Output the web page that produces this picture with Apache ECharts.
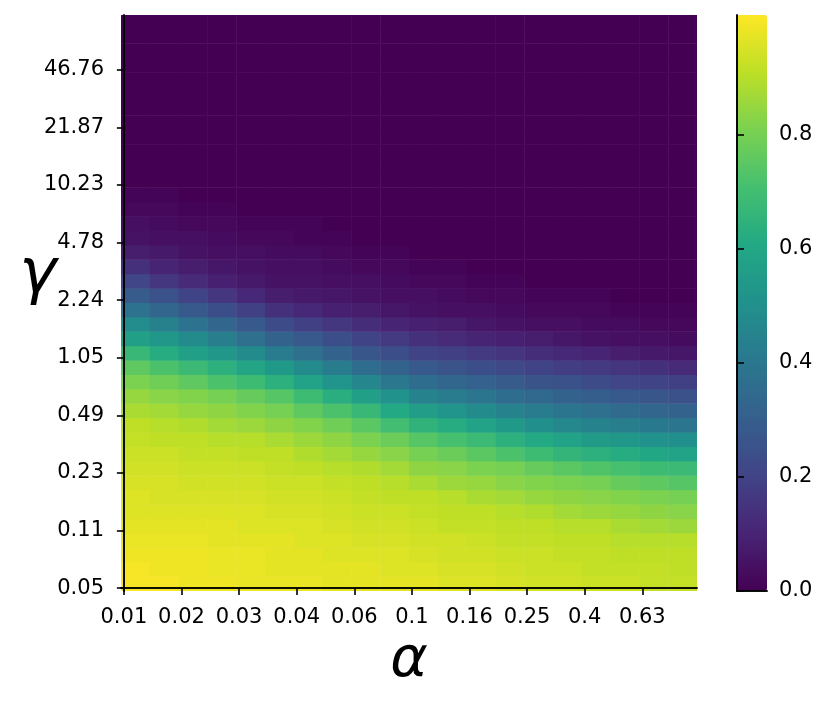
<!DOCTYPE html>
<html>
<head>
<meta charset="utf-8">
<script src="https://cdn.jsdelivr.net/npm/echarts@6/dist/echarts.min.js"></script>
<style>
  html, body { margin: 0; padding: 0; background: #fff; }
  #chart { width: 831px; height: 706px; }
</style>
</head>
<body>
<div id="chart"></div>
<script>
// tick labels (alpha along x, gamma along y), one every 10 grid steps
var xTickLabels = ['0.01', '0.02', '0.03', '0.04', '0.06', '0.1', '0.16', '0.25', '0.4', '0.63'];
var yTickLabels = ['0.05', '0.11', '0.23', '0.49', '1.05', '2.24', '4.78', '10.23', '21.87', '46.76'];
var cbTicks = [0, 0.2, 0.4, 0.6, 0.8];
var cbMax = 1.01;

// values: 40 rows (bottom -> top) x 20 columns (left -> right)
var zRows = [
  [1.0, 1.0, .99, .99, .98, .98, .98, .97, .97, .97, .97, .96, .96, .95, .94, .94, .93, .93, .92, .92],
  [1.0, .99, .99, .98, .98, .97, .97, .97, .97, .96, .96, .95, .95, .94, .93, .93, .92, .92, .92, .91],
  [.99, .99, .99, .98, .98, .97, .97, .96, .96, .96, .95, .94, .94, .93, .93, .92, .92, .91, .91, .91],
  [.98, .98, .98, .97, .97, .97, .96, .96, .95, .95, .94, .94, .93, .92, .92, .91, .91, .90, .90, .90],
  [.97, .97, .97, .97, .96, .96, .96, .95, .94, .94, .93, .92, .92, .91, .91, .90, .90, .88, .87, .86],
  [.96, .96, .96, .96, .96, .95, .95, .94, .93, .93, .92, .91, .91, .90, .89, .87, .86, .85, .84, .83],
  [.96, .95, .95, .95, .95, .94, .94, .93, .92, .91, .91, .90, .88, .87, .85, .84, .83, .82, .81, .80],
  [.95, .95, .94, .94, .94, .93, .93, .92, .91, .90, .88, .86, .85, .83, .82, .81, .80, .77, .76, .74],
  [.94, .94, .93, .93, .93, .92, .91, .90, .89, .87, .84, .83, .81, .80, .77, .75, .73, .71, .69, .68],
  [.93, .93, .92, .92, .91, .91, .89, .87, .85, .83, .80, .78, .75, .72, .69, .66, .64, .62, .60, .58],
  [.92, .91, .91, .90, .90, .88, .86, .84, .81, .78, .74, .71, .68, .64, .61, .58, .55, .53, .51, .50],
  [.91, .90, .89, .87, .86, .84, .82, .79, .75, .70, .65, .62, .58, .54, .50, .47, .45, .43, .41, .39],
  [.88, .87, .85, .84, .82, .80, .76, .72, .67, .61, .56, .52, .48, .45, .42, .39, .37, .35, .33, .32],
  [.85, .83, .82, .80, .77, .74, .69, .63, .57, .51, .45, .42, .39, .36, .34, .32, .30, .28, .27, .25],
  [.81, .79, .76, .72, .69, .64, .58, .52, .46, .40, .36, .33, .31, .29, .26, .25, .23, .21, .20, .19],
  [.76, .72, .68, .64, .59, .54, .48, .42, .36, .32, .28, .26, .24, .22, .20, .18, .17, .15, .14, .12],
  [.67, .62, .57, .53, .48, .42, .37, .32, .27, .24, .20, .19, .17, .15, .13, .11, .10, .08, .07, .06],
  [.57, .53, .48, .43, .37, .32, .28, .24, .20, .17, .14, .12, .10, .09, .08, .06, .05, .04, .04, .03],
  [.49, .44, .38, .33, .28, .23, .19, .16, .13, .10, .09, .08, .06, .05, .04, .04, .03, .03, .02, .02],
  [.38, .33, .28, .24, .19, .14, .11, .09, .08, .06, .05, .04, .04, .03, .02, .02, .02, .01, .01, .01],
  [.29, .25, .20, .16, .11, .08, .07, .06, .05, .04, .04, .03, .02, .02, .01, .01, .01, 0, 0, 0],
  [.21, .16, .12, .09, .07, .05, .05, .04, .04, .03, .02, .02, .01, .01, 0, 0, 0, 0, 0, 0],
  [.14, .10, .08, .06, .05, .04, .04, .03, .02, .02, .01, .01, 0, 0, 0, 0, 0, 0, 0, 0],
  [.08, .07, .05, .04, .04, .03, .03, .02, .01, .01, 0, 0, 0, 0, 0, 0, 0, 0, 0, 0],
  [.05, .04, .04, .03, .02, .02, .01, .01, 0, 0, 0, 0, 0, 0, 0, 0, 0, 0, 0, 0],
  [.04, .03, .02, .02, .01, .01, .01, 0, 0, 0, 0, 0, 0, 0, 0, 0, 0, 0, 0, 0],
  [.02, .02, .01, .01, 0, 0, 0, 0, 0, 0, 0, 0, 0, 0, 0, 0, 0, 0, 0, 0],
  [.01, .01, 0, 0, 0, 0, 0, 0, 0, 0, 0, 0, 0, 0, 0, 0, 0, 0, 0, 0],
  [0, 0, 0, 0, 0, 0, 0, 0, 0, 0, 0, 0, 0, 0, 0, 0, 0, 0, 0, 0],
  [0, 0, 0, 0, 0, 0, 0, 0, 0, 0, 0, 0, 0, 0, 0, 0, 0, 0, 0, 0],
  [0, 0, 0, 0, 0, 0, 0, 0, 0, 0, 0, 0, 0, 0, 0, 0, 0, 0, 0, 0],
  [0, 0, 0, 0, 0, 0, 0, 0, 0, 0, 0, 0, 0, 0, 0, 0, 0, 0, 0, 0],
  [0, 0, 0, 0, 0, 0, 0, 0, 0, 0, 0, 0, 0, 0, 0, 0, 0, 0, 0, 0],
  [0, 0, 0, 0, 0, 0, 0, 0, 0, 0, 0, 0, 0, 0, 0, 0, 0, 0, 0, 0],
  [0, 0, 0, 0, 0, 0, 0, 0, 0, 0, 0, 0, 0, 0, 0, 0, 0, 0, 0, 0],
  [0, 0, 0, 0, 0, 0, 0, 0, 0, 0, 0, 0, 0, 0, 0, 0, 0, 0, 0, 0],
  [0, 0, 0, 0, 0, 0, 0, 0, 0, 0, 0, 0, 0, 0, 0, 0, 0, 0, 0, 0],
  [0, 0, 0, 0, 0, 0, 0, 0, 0, 0, 0, 0, 0, 0, 0, 0, 0, 0, 0, 0],
  [0, 0, 0, 0, 0, 0, 0, 0, 0, 0, 0, 0, 0, 0, 0, 0, 0, 0, 0, 0],
  [0, 0, 0, 0, 0, 0, 0, 0, 0, 0, 0, 0, 0, 0, 0, 0, 0, 0, 0, 0]
];

var viridis = ['#440154', '#482475', '#414487', '#355f8d', '#2a788e', '#21918c',
               '#22a884', '#44bf70', '#7ad151', '#bddf26', '#fde725'];

// the axes run over a 100 x 100 index grid; each data cell spans CW x RH of it
var N = 100;
var CW = N / zRows[0].length;
var RH = N / zRows.length;
var tickIdx = xTickLabels.map(function (_, i) { return i * 10; });

var cells = [];
for (var r = 0; r < zRows.length; r++) {
  for (var c = 0; c < zRows[r].length; c++) {
    cells.push([c, r, zRows[r][c]]);
  }
}

var font = 'DejaVu Sans';
var black = '#000';
var spine = { show: true, lineStyle: { color: black, width: 1.6 } };
var tick = { show: true, length: 7, lineStyle: { color: black, width: 1.6 } };
var lbl = { color: black, fontSize: 21, fontFamily: font, margin: 16 };

function frameAxis(grid, pos, min, max) {
  return {
    gridIndex: grid, type: 'value', position: pos, min: min, max: max, z: 10,
    axisLine: spine, axisTick: { show: false }, axisLabel: { show: false },
    splitLine: { show: false }
  };
}

var chart = echarts.init(document.getElementById('chart'));
chart.setOption({
  animation: false,
  grid: [
    { left: 121, top: 15, width: 576, height: 576 },
    { left: 737, top: 15, width: 30, height: 576 }
  ],
  // gamma axis title sits beside the 2.24-4.78 ticks, so it is placed by hand
  graphic: [{
    type: 'text', x: 38, y: 276, z: 20,
    style: {
      text: 'γ', fill: black, fontFamily: font, fontStyle: 'italic', fontSize: 63,
      align: 'center', verticalAlign: 'middle'
    }
  }],
  xAxis: [
    {
      gridIndex: 0, type: 'value', position: 'bottom', min: -0.5, max: N - 0.5, z: 10,
      axisLine: spine,
      axisTick: Object.assign({ customValues: tickIdx }, tick),
      axisLabel: Object.assign({
        customValues: tickIdx,
        formatter: function (v) { return xTickLabels[Math.round(v / 10)]; }
      }, lbl),
      splitLine: { show: false },
      name: 'α', nameLocation: 'middle', nameGap: 42,
      nameTextStyle: { fontFamily: font, fontStyle: 'italic', fontSize: 57, color: black }
    },
    frameAxis(0, 'top', -0.5, N - 0.5),
    frameAxis(1, 'bottom', 0, cbMax),
    frameAxis(1, 'top', 0, cbMax)
  ],
  yAxis: [
    {
      gridIndex: 0, type: 'value', position: 'left', min: -0.5, max: N - 0.5, z: 10,
      axisLine: spine,
      axisTick: Object.assign({ customValues: tickIdx }, tick),
      axisLabel: Object.assign({
        customValues: tickIdx,
        formatter: function (v) { return yTickLabels[Math.round(v / 10)]; }
      }, lbl, { margin: 17 }),
      splitLine: { show: false }
    },
    frameAxis(0, 'right', -0.5, N - 0.5),
    frameAxis(1, 'left', 0, cbMax),
    {
      gridIndex: 1, type: 'value', position: 'right', min: 0, max: cbMax, z: 10,
      axisLine: spine,
      axisTick: Object.assign({ customValues: cbTicks }, tick),
      axisLabel: Object.assign({
        customValues: cbTicks,
        formatter: function (v) { return v.toFixed(1); }
      }, lbl, { margin: 12 }),
      splitLine: { show: false }
    }
  ],
  visualMap: {
    type: 'continuous', seriesIndex: 0, dimension: 2, min: 0, max: cbMax,
    calculable: false, hoverLink: false, text: null, padding: 0,
    left: 737, top: 15, itemWidth: 30, itemHeight: 576,
    inRange: { color: viridis }
  },
  series: [{
    type: 'custom',
    xAxisIndex: 0, yAxisIndex: 0,
    clip: true,
    data: cells,
    renderItem: function (params, api) {
      var c = api.value(0), r = api.value(1);
      var p0 = api.coord([c * CW - 0.5, r * RH - 0.5]);
      var p1 = api.coord([(c + 1) * CW - 0.5, (r + 1) * RH - 0.5]);
      return {
        type: 'rect',
        shape: { x: p0[0], y: p1[1] - 0.5, width: p1[0] - p0[0] + 0.5, height: p0[1] - p1[1] + 0.5 },
        style: { fill: api.visual('color') }
      };
    }
  }]
});
</script>
</body>
</html>
